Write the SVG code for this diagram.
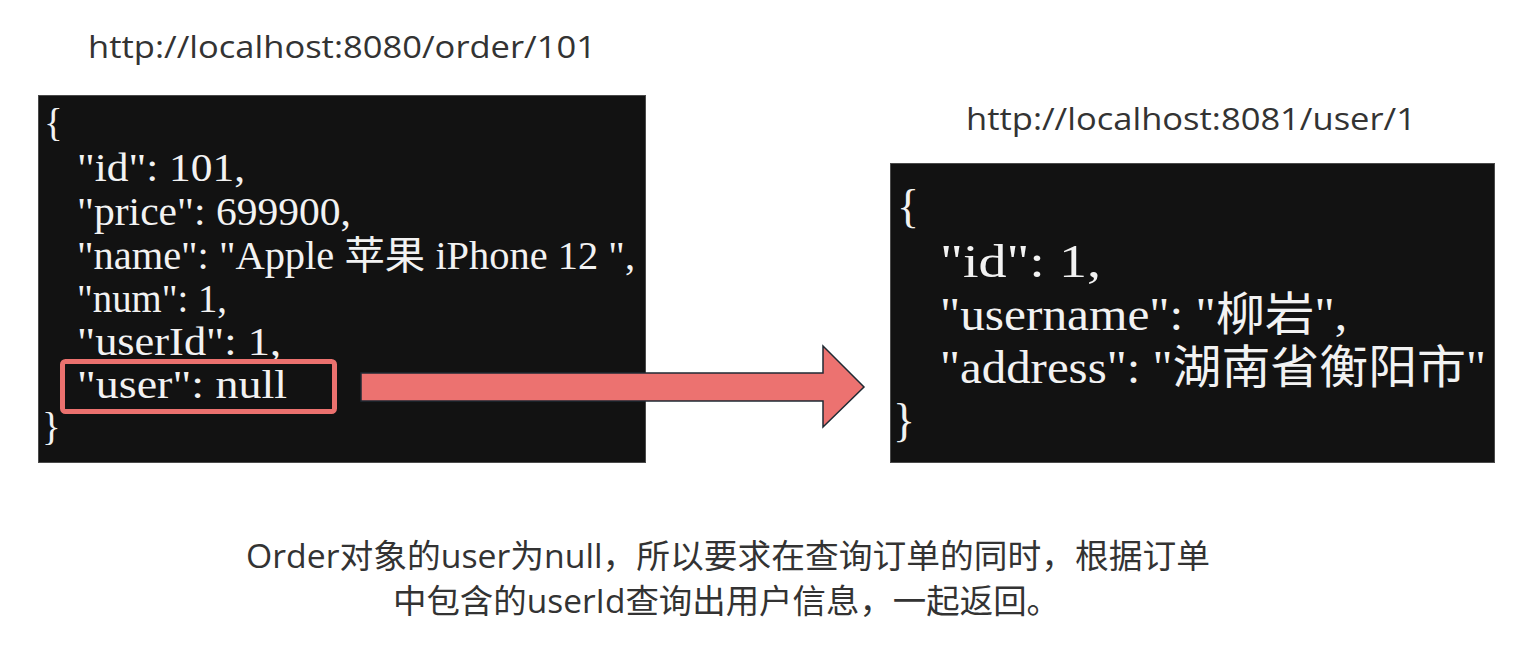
<svg xmlns="http://www.w3.org/2000/svg" width="1521" height="646" viewBox="0 0 1521 646">
<style>
.bg{fill:#ffffff}
.code-box{fill:#121212;stroke:#4a4a4a;stroke-width:1}
.code{font-family:"Liberation Serif","Noto Sans CJK SC",serif;fill:#f2f2f2}
.c1{font-size:39px}
.c2{font-size:46px}
.url{font-family:"Open Sans","Noto Sans CJK SC",sans-serif;font-size:31px;fill:#333333}
.note{font-family:"Open Sans","Noto Sans CJK SC",sans-serif;font-size:33px;fill:#333333}
.hl{fill:none;stroke:#eb716e;stroke-width:5}
.arrow{fill:#ec7270;stroke:#1f2a33;stroke-width:1.5;stroke-linejoin:miter}
</style>
<rect class="bg" x="0" y="0" width="1521" height="646"/>

<g id="order-url">
<text class="url" x="88" y="58" textLength="508" lengthAdjust="spacingAndGlyphs">http://localhost:8080/order/101</text>
</g>

<g id="order-json">
<rect class="code-box" x="38.5" y="95.5" width="607" height="367"/>
<text class="code c1" x="44" y="136">{</text>
<text class="code c1" x="77" y="181" textLength="168" lengthAdjust="spacingAndGlyphs">"id": 101,</text>
<text class="code c1" x="77" y="225" textLength="274" lengthAdjust="spacingAndGlyphs">"price": 699900,</text>
<text class="code c1" x="77" y="269" textLength="558" lengthAdjust="spacingAndGlyphs">"name": "Apple 苹果 iPhone 12 ",</text>
<text class="code c1" x="77" y="312" textLength="150" lengthAdjust="spacingAndGlyphs">"num": 1,</text>
<text class="code c1" x="77" y="355" textLength="204" lengthAdjust="spacingAndGlyphs">"userId": 1,</text>
<text class="code c1" x="77" y="398" textLength="210" lengthAdjust="spacingAndGlyphs">"user": null</text>
<text class="code c1" x="42" y="440">}</text>
</g>

<g id="user-null-highlight">
<rect class="hl" x="62.5" y="361.5" width="272" height="50" rx="3"/>
</g>

<g id="user-url">
<text class="url" x="966" y="130" textLength="450" lengthAdjust="spacingAndGlyphs">http://localhost:8081/user/1</text>
</g>

<g id="user-json">
<rect class="code-box" x="890.5" y="163.5" width="604" height="299"/>
<text class="code c2" x="897" y="222">{</text>
<text class="code c2" x="940" y="277" textLength="161" lengthAdjust="spacingAndGlyphs">"id": 1,</text>
<text class="code c2" x="940" y="330" textLength="407" lengthAdjust="spacingAndGlyphs">"username": "柳岩",</text>
<text class="code c2" x="940" y="383" textLength="546" lengthAdjust="spacingAndGlyphs">"address": "湖南省衡阳市"</text>
<text class="code c2" x="893" y="436">}</text>
</g>

<g id="connectors">
<polygon class="arrow" points="361,373 823,373 823,346 864,387 823,427 823,401 361,401"/>
</g>

<g id="note">
<text class="note" x="246" y="568" textLength="964" lengthAdjust="spacingAndGlyphs">Order对象的user为null，所以要求在查询订单的同时，根据订单</text>
<text class="note" x="393" y="613" textLength="667" lengthAdjust="spacingAndGlyphs">中包含的userId查询出用户信息，一起返回。</text>
</g>
</svg>
